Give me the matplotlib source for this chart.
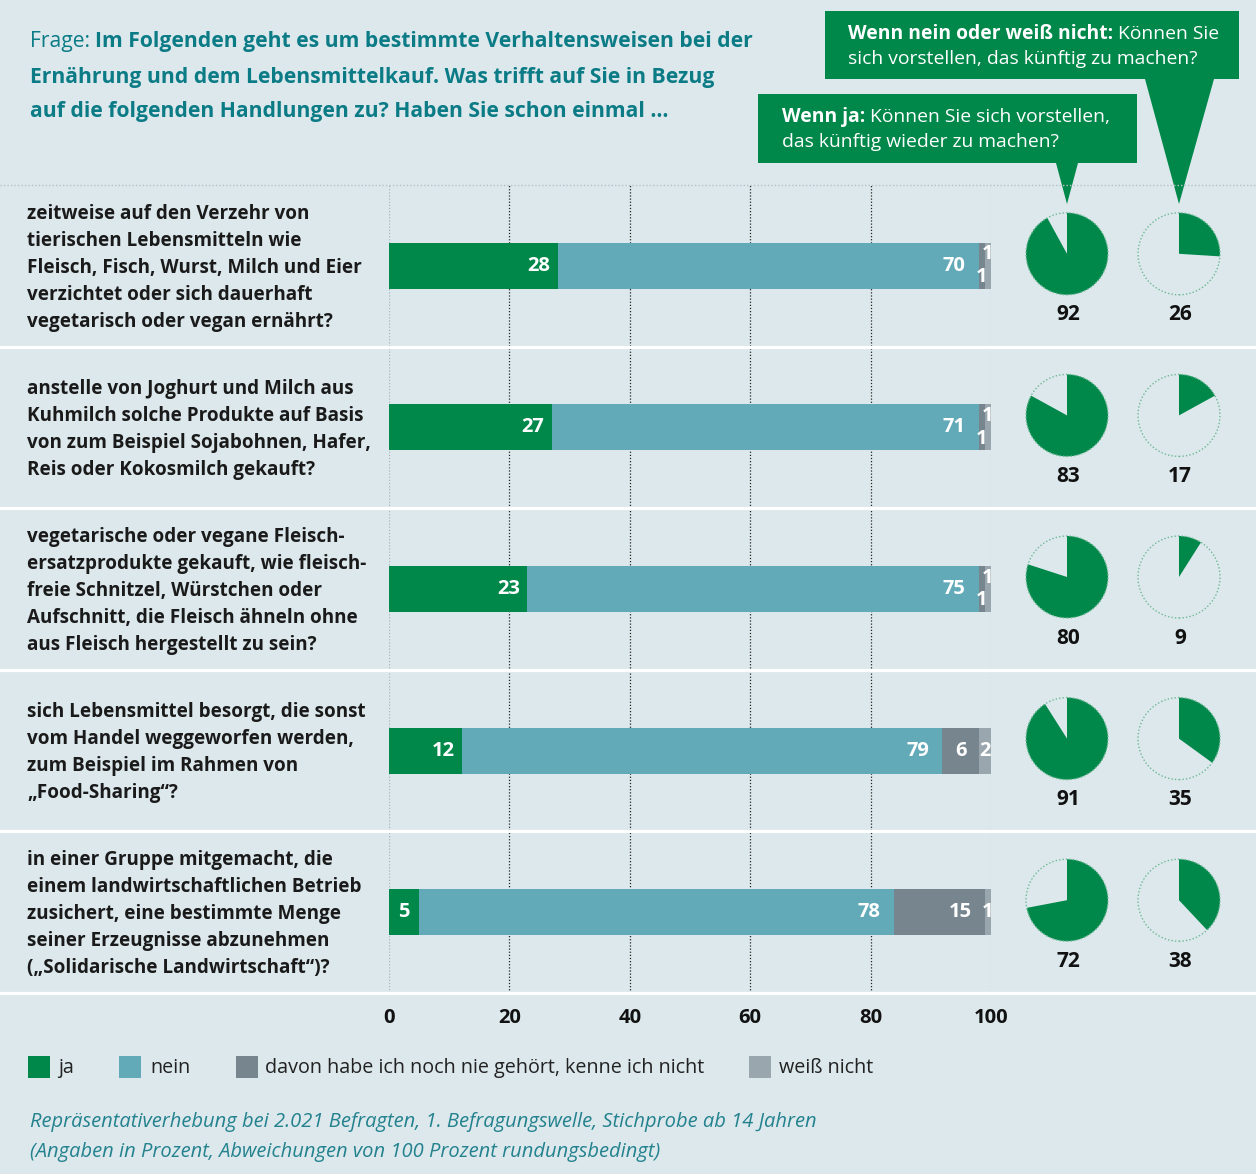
import matplotlib
matplotlib.use("Agg")
import matplotlib.pyplot as plt
from matplotlib import font_manager
from matplotlib.patches import Rectangle, Polygon, Circle

# data
questions = [
    "zeitweise auf den Verzehr von\ntierischen Lebensmitteln wie\nFleisch, Fisch, Wurst, Milch und Eier\nverzichtet oder sich dauerhaft\nvegetarisch oder vegan ernährt?",
    "anstelle von Joghurt und Milch aus\nKuhmilch solche Produkte auf Basis\nvon zum Beispiel Sojabohnen, Hafer,\nReis oder Kokosmilch gekauft?",
    "vegetarische oder vegane Fleisch-\nersatzprodukte gekauft, wie fleisch-\nfreie Schnitzel, Würstchen oder\nAufschnitt, die Fleisch ähneln ohne\naus Fleisch hergestellt zu sein?",
    "sich Lebensmittel besorgt, die sonst\nvom Handel weggeworfen werden,\nzum Beispiel im Rahmen von\n„Food-Sharing“?",
    "in einer Gruppe mitgemacht, die\neinem landwirtschaftlichen Betrieb\nzusichert, eine bestimmte Menge\nseiner Erzeugnisse abzunehmen\n(„Solidarische Landwirtschaft“)?",
]
ja = [28, 27, 23, 12, 5]
nein = [70, 71, 75, 79, 78]
nie_gehoert = [1, 1, 1, 6, 15]
weiss_nicht = [1, 1, 1, 2, 1]
wieder = [92, 83, 80, 91, 72]      # wenn ja
kuenftig = [26, 17, 9, 35, 38]     # wenn nein / weiß nicht
series_names = ["ja", "nein", "davon habe ich noch nie gehört, kenne ich nicht", "weiß nicht"]
xticks = [0, 20, 40, 60, 80, 100]

GREEN = "#00884a"
BLUE = "#62aab8"
DGREY = "#77868e"
LGREY = "#99a6ad"
BG = "#dce8ec"
TEAL = "#0b7b86"
colors = [GREEN, BLUE, DGREY, LGREY]

names = {f.name for f in font_manager.fontManager.ttflist}
FONT = "Liberation Sans Narrow" if "Liberation Sans Narrow" in names else "Open Sans"
plt.rcParams["font.family"] = [FONT, "DejaVu Sans"]

W, H = 1256, 1174
fig = plt.figure(figsize=(W / 100, H / 100), dpi=100, facecolor=BG)

# layout (pixels)
top, bottom = 185, 993
x0, x1 = 389, 991
n = len(questions)
row_h = (bottom - top) / n

# bars are scaled to 100 % (labels show the rounded values)
totals = [a + b + c + d for a, b, c, d in zip(ja, nein, nie_gehoert, weiss_nicht)]
scaled = [[v * 100 / t for v, t in zip(s, totals)] for s in (ja, nein, nie_gehoert, weiss_nicht)]

ax = fig.add_axes([x0 / W, 1 - bottom / H, (x1 - x0) / W, (bottom - top) / H])
ax.set_facecolor("none")
left = [0] * n
for vals, c in zip(scaled, colors):
    ax.barh(range(n), vals, left=left, height=0.285, color=c, zorder=3)
    left = [l + v for l, v in zip(left, vals)]
ax.set_xlim(0, 100)
ax.set_ylim(n - 0.5, -0.5)
ax.set_xticks(xticks)
ax.set_yticks([])
ax.grid(axis="x", ls=(0, (1, 1.5)), color="#222222", lw=0.9, zorder=1)
gl = ax.xaxis.get_gridlines()
gl[0].set_color("#a9b4b9")
gl[-1].set_color("#a9b4b9")
for s in ax.spines.values():
    s.set_visible(False)
ax.tick_params(length=0, labelsize=14.5, pad=11, labelcolor="#111111")
for lbl in ax.get_xticklabels():
    lbl.set_fontweight("bold")

# value labels
lab = dict(color="white", fontweight="bold", fontsize=14.5, va="center", zorder=4)
sja, snein, snie, sweiss = scaled
for i in range(n):
    if ja[i] >= 10:
        ax.text(sja[i] - 1.2, i, str(ja[i]), ha="right", **lab)
    else:
        ax.text(sja[i] / 2, i, str(ja[i]), ha="center", **lab)
    e = sja[i] + snein[i]
    ax.text(e - 2.2, i, str(nein[i]), ha="right", **lab)
    if nie_gehoert[i] < 2 and weiss_nicht[i] < 2:
        ax.text(e + snie[i] / 2, i + 0.07, str(nie_gehoert[i]), ha="center", **lab)
        ax.text(e + snie[i] + sweiss[i] / 2, i - 0.07, str(weiss_nicht[i]), ha="center", **lab)
    else:
        if nie_gehoert[i] >= 10:
            ax.text(e + snie[i] - 2.2, i, str(nie_gehoert[i]), ha="right", **lab)
        else:
            ax.text(e + snie[i] / 2, i, str(nie_gehoert[i]), ha="center", **lab)
        ax.text(e + snie[i] + sweiss[i] / 2, i, str(weiss_nicht[i]), ha="center", **lab)

# overlay in pixel coordinates
ov = fig.add_axes([0, 0, 1, 1], zorder=5)
ov.set_xlim(0, W)
ov.set_ylim(H, 0)
ov.axis("off")

ov.plot([0, W], [top, top], ls=(0, (1, 1.5)), color="#b4c1c6", lw=1)
for k in range(1, n + 1):
    ov.plot([0, W], [top + k * row_h] * 2, color="white", lw=2.3)

for i, q in enumerate(questions):
    ov.text(27, top + (i + 0.5) * row_h + 2, q, fontsize=13.6, fontweight="bold",
            color="#1a1a1a", va="center", ha="left", linespacing=1.46)

# pies
pie_r = 41
for i in range(n):
    cy = top + (i + 0.5) * row_h - 12
    for cx, v in zip([1067, 1179], [wieder[i], kuenftig[i]]):
        pa = fig.add_axes([(cx - 45) / W, 1 - (cy + 45) / H, 90 / W, 90 / H], zorder=6)
        pa.pie([v, 100 - v], colors=[GREEN, "none"], startangle=90, counterclock=False,
               radius=1, wedgeprops=dict(lw=0))
        pa.add_patch(Circle((0, 0), 1, fill=False, ec="#6fb894", lw=1, ls=(0, (1, 1.5))))
        pa.set_xlim(-45 / pie_r, 45 / pie_r)
        pa.set_ylim(-45 / pie_r, 45 / pie_r)
        pa.set_aspect("equal")
        pa.axis("off")
        ov.text(cx + 1, cy + 61, str(v), ha="center", va="center", fontsize=15,
                fontweight="bold", color="#111111")

renderer = fig.canvas.get_renderer()


def mixed(x, y, parts, size, color, gap):
    for txt, wt in parts:
        t = ov.text(x, y, txt, fontsize=size, fontweight=wt, color=color, va="center", ha="left")
        bb = t.get_window_extent(renderer=renderer)
        x += bb.width + gap


# title
TS = 15.2
mixed(30, 42, [("Frage:", "normal"), ("Im Folgenden geht es um bestimmte Verhaltensweisen bei der", "bold")],
      TS, TEAL, 5)
ov.text(30, 77, "Ernährung und dem Lebensmittelkauf. Was trifft auf Sie in Bezug",
        fontsize=TS, fontweight="bold", color=TEAL, va="center")
ov.text(30, 111, "auf die folgenden Handlungen zu? Haben Sie schon einmal …",
        fontsize=TS, fontweight="bold", color=TEAL, va="center")

# callouts
ov.add_patch(Polygon([(825, 11), (1239, 11), (1239, 79), (1214, 79), (1179, 204),
                      (1145, 79), (825, 79)], closed=True, fc=GREEN, ec="none"))
ov.add_patch(Polygon([(758, 94), (1137, 94), (1137, 163), (1078, 163), (1067, 204),
                      (1056, 163), (758, 163)], closed=True, fc=GREEN, ec="none"))
CS = 13.9
mixed(848, 34, [("Wenn nein oder weiß nicht:", "bold"), ("Können Sie", "normal")], CS, "white", 5)
ov.text(848, 59, "sich vorstellen, das künftig zu machen?", fontsize=CS, color="white", va="center")
mixed(782, 117, [("Wenn ja:", "bold"), ("Können Sie sich vorstellen,", "normal")], CS, "white", 5)
ov.text(782, 142, "das künftig wieder zu machen?", fontsize=CS, color="white", va="center")

# legend
for sx, tx, name, c in zip([28, 119, 236, 749], [58, 150, 265, 779], series_names, colors):
    ov.add_patch(Rectangle((sx, 1056), 22, 22, fc=c, ec="none"))
    ov.text(tx, 1068, name, fontsize=14.2, color="#222222", va="center")

# footer
ov.text(30, 1122, "Repräsentativerhebung bei 2.021 Befragten, 1. Befragungswelle, Stichprobe ab 14 Jahren",
        fontsize=14.5, style="italic", color="#23828e", va="center")
ov.text(30, 1152, "(Angaben in Prozent, Abweichungen von 100 Prozent rundungsbedingt)",
        fontsize=14.5, style="italic", color="#23828e", va="center")

fig.savefig("out.png", dpi=100, facecolor=BG)
